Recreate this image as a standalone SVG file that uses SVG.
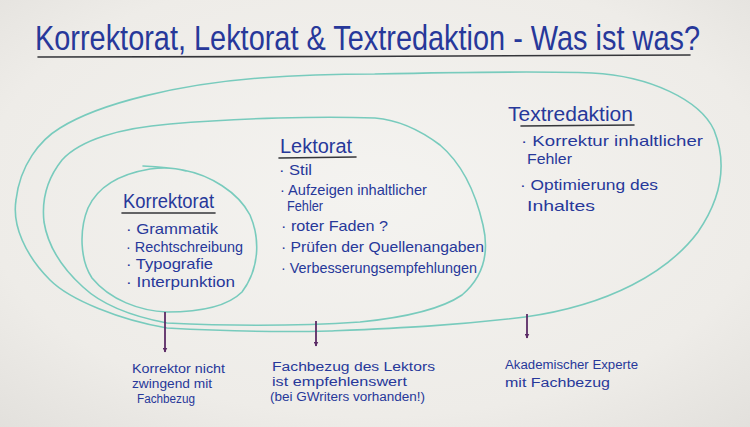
<svg xmlns="http://www.w3.org/2000/svg" width="750" height="427" viewBox="0 0 750 427">
<defs>
<radialGradient id="bg" cx="0.5" cy="0.45" r="0.75">
<stop offset="0" stop-color="#f4f3f0"/>
<stop offset="0.7" stop-color="#eeece8"/>
<stop offset="1" stop-color="#e2e0dc"/>
</radialGradient>
<marker id="ah" viewBox="0 0 10 10" refX="9" refY="5" markerWidth="5" markerHeight="5" orient="auto" markerUnits="userSpaceOnUse">
<path d="M0,0 L10,5 L0,10 Z" fill="#5b2b66"/>
</marker>
<style>
.t{font-family:"Liberation Sans",Arial,sans-serif;fill:#27389a;}
.h{font-size:20px;}
.b{font-size:15px;}
.n{font-size:12.5px;}
.ul{stroke:#35363a;stroke-width:1.6;fill:none;stroke-linecap:round;}
.c{stroke:#78cbbd;stroke-width:1.6;fill:none;stroke-linecap:round;}
.a{stroke:#5b2b66;stroke-width:1.8;fill:none;marker-end:url(#ah);}
</style>
</defs>
<rect width="750" height="427" fill="url(#bg)"/>

<g id="title">
<text class="t" transform="translate(35,50) scale(1,1.25)" x="0" y="0" font-size="28" textLength="665" lengthAdjust="spacingAndGlyphs">Korrektorat, Lektorat &amp; Textredaktion - Was ist was?</text>
<path class="ul" d="M38,57 C250,57 480,56 690,55" stroke-width="2"/>
</g>

<g id="textredaktion">
<path class="c" d="M375,74 C470,72 540,71 592,73 C650,76 700,100 714,130 C728,165 720,200 698,232 C668,272 610,305 525,317 C450,326 400,328 330,331 C290,332 240,332 167,328 C120,320 70,300 50,280 C25,255 12,225 16,200 C20,165 40,140 60,128 C100,103 180,84 260,78 C300,75 340,74 375,74"/>
<text class="t h" x="508" y="121" textLength="125" lengthAdjust="spacingAndGlyphs">Textredaktion</text>
<path class="ul" d="M521,126 L634,125"/>
<text class="t b" x="521" y="146" textLength="182" lengthAdjust="spacingAndGlyphs">· Korrektur inhaltlicher</text>
<text class="t b" x="527" y="164" textLength="45" lengthAdjust="spacingAndGlyphs">Fehler</text>
<text class="t b" x="520" y="190" textLength="138" lengthAdjust="spacingAndGlyphs">· Optimierung des</text>
<text class="t b" x="527" y="211" textLength="68" lengthAdjust="spacingAndGlyphs">Inhaltes</text>
</g>

<g id="lektorat">
<path class="c" d="M375,118 C400,120 420,130 440,145 C460,162 475,190 483,225 C490,255 482,278 462,295 C440,310 400,318 360,322 C300,326 230,326 167,323 C130,316 100,303 83,287 C62,268 48,247 44,222 C41,195 50,175 62,160 C80,140 120,128 170,124 C240,118 320,116 375,118"/>
<text class="t h" x="280" y="153" textLength="72" lengthAdjust="spacingAndGlyphs">Lektorat</text>
<path class="ul" d="M279,158 L356,157"/>
<text class="t b" x="279" y="175" textLength="33" lengthAdjust="spacingAndGlyphs">· Stil</text>
<text class="t b" x="280" y="195" textLength="147" lengthAdjust="spacingAndGlyphs">· Aufzeigen inhaltlicher</text>
<text class="t b" x="287" y="211" textLength="36" lengthAdjust="spacingAndGlyphs">Fehler</text>
<text class="t b" x="281" y="231" textLength="107" lengthAdjust="spacingAndGlyphs">· roter Faden ?</text>
<text class="t b" x="281" y="252" textLength="203" lengthAdjust="spacingAndGlyphs">· Prüfen der Quellenangaben</text>
<text class="t b" x="281" y="273" textLength="196" lengthAdjust="spacingAndGlyphs">· Verbesserungsempfehlungen</text>
</g>

<g id="korrektorat">
<path class="c" d="M143,166 C160,167 172,168 183,170 C210,175 238,192 250,215 C260,238 260,268 242,292 C228,306 200,312 167,312 C140,311 110,300 92,278 C80,260 79,230 88,208 C98,186 120,174 150,169 C165,167 176,168 186,171"/>
<text class="t h" x="123" y="208" textLength="91" lengthAdjust="spacingAndGlyphs">Korrektorat</text>
<path class="ul" d="M122,213 L215,213"/>
<text class="t b" x="126" y="234" textLength="92" lengthAdjust="spacingAndGlyphs">· Grammatik</text>
<text class="t b" x="126" y="252" textLength="117" lengthAdjust="spacingAndGlyphs">· Rechtschreibung</text>
<text class="t b" x="126" y="269" textLength="87" lengthAdjust="spacingAndGlyphs">· Typografie</text>
<text class="t b" x="126" y="287" textLength="109" lengthAdjust="spacingAndGlyphs">· Interpunktion</text>
</g>

<g id="note-korrektor">
<text class="t n" x="132" y="373" textLength="93" lengthAdjust="spacingAndGlyphs">Korrektor nicht</text>
<text class="t n" x="132" y="388" textLength="80" lengthAdjust="spacingAndGlyphs">zwingend mit</text>
<text class="t n" x="137" y="403" textLength="58" lengthAdjust="spacingAndGlyphs">Fachbezug</text>
</g>

<g id="note-lektor">
<text class="t n" x="272" y="371" textLength="163" lengthAdjust="spacingAndGlyphs">Fachbezug des Lektors</text>
<text class="t n" x="272" y="386" textLength="135" lengthAdjust="spacingAndGlyphs">ist empfehlenswert</text>
<text class="t n" x="270" y="401" textLength="155" lengthAdjust="spacingAndGlyphs">(bei GWriters vorhanden!)</text>
</g>

<g id="note-redaktion">
<text class="t n" x="505" y="369" textLength="133" lengthAdjust="spacingAndGlyphs">Akademischer Experte</text>
<text class="t n" x="505" y="387" textLength="105" lengthAdjust="spacingAndGlyphs">mit Fachbezug</text>
</g>

<g id="connectors">
<line class="a" x1="165" y1="312" x2="165" y2="352"/>
<line class="a" x1="316" y1="321" x2="316" y2="346"/>
<line class="a" x1="527" y1="314" x2="527" y2="338"/>
</g>
</svg>
